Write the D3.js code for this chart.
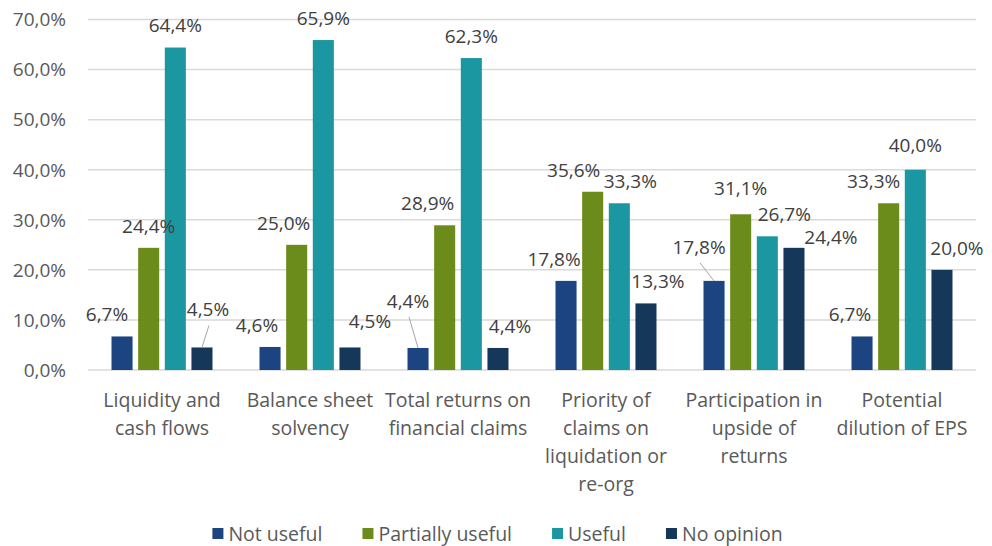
<!DOCTYPE html>
<html>
<head>
<meta charset="utf-8">
<script src="https://cdn.jsdelivr.net/npm/d3@7"></script>
<style>
  html, body { margin: 0; padding: 0; background: #ffffff; }
  svg { display: block; }
  text { font-family: "Open Sans", "Noto Sans", sans-serif; }
</style>
</head>
<body>
<svg id="chart" width="992" height="546"></svg>
<script>
// ---------- DATA ----------
const categories = [
  "Liquidity and\ncash flows",
  "Balance sheet\nsolvency",
  "Total returns on\nfinancial claims",
  "Priority of\nclaims on\nliquidation or\nre-org",
  "Participation in\nupside of\nreturns",
  "Potential\ndilution of EPS"
];
const seriesNames = ["Not useful", "Partially useful", "Useful", "No opinion"];
const notUseful       = [6.7, 4.6, 4.4, 17.8, 17.8, 6.7];
const partiallyUseful = [24.4, 25.0, 28.9, 35.6, 31.1, 33.3];
const useful          = [64.4, 65.9, 62.3, 33.3, 26.7, 40.0];
const noOpinion       = [4.5, 4.5, 4.4, 13.3, 24.4, 20.0];
const yTicks = [0, 10, 20, 30, 40, 50, 60, 70];

// ---------- STYLE / LAYOUT ----------
const seriesColors = ["#1b4480", "#6b8c1a", "#1a97a0", "#15385a"];
// manual label nudges (px): [dx, dy, leaderLine]
const labelNudge = [
  [[-15, 0], [-13, 0], [-10, -25, 1], [-12, 0], [-15, -12, 1], [-12, 0]],
  [[0, 0], [-13, 0], [-17, 0], [-19, 0], [0, -4], [-15, 0]],
  [[0, 0], [0, 0], [0, 0], [11, 0], [17, 0], [0, -3]],
  [[6, -16, 1], [20, -4], [12, 0], [12, 0], [37, 11], [15, 0]]
];

const values = [notUseful, partiallyUseful, useful, noOpinion];
const rows = categories.map((c, i) => ({
  cat: c,
  vals: seriesNames.map((s, j) => ({ series: s, si: j, ci: i, v: values[j][i] }))
}));

const svg = d3.select("#chart");
const plotLeft = 88, plotRight = 976, plotTop = 19.5, plotBottom = 370;

const y = d3.scaleLinear().domain([0, 70]).range([plotBottom, plotTop]);
const x0 = d3.scaleBand().domain(categories).range([plotLeft, plotRight]).padding(0);
const groupW = 101;
const x1 = d3.scaleBand().domain(seriesNames)
  .range([x0.bandwidth() / 2 - groupW / 2, x0.bandwidth() / 2 + groupW / 2])
  .paddingInner(0.21).paddingOuter(0);

const fmt = v => d3.format(".1f")(v).replace(".", ",") + "%";

// gridlines
svg.append("g").selectAll("line").data(yTicks).join("line")
  .attr("x1", plotLeft).attr("x2", plotRight)
  .attr("y1", d => y(d)).attr("y2", d => y(d))
  .attr("stroke", "#d9d9d9").attr("stroke-width", 1.5);

// y tick labels
svg.append("g").selectAll("text").data(yTicks).join("text")
  .text(fmt)
  .attr("x", 66).attr("y", d => y(d))
  .attr("text-anchor", "end")
  .attr("dy", "0.36em")
  .attr("font-size", 19)
  .attr("fill", "#595959");

// bars
const groups = svg.append("g").selectAll("g").data(rows).join("g")
  .attr("transform", d => `translate(${x0(d.cat)},0)`);
groups.selectAll("rect").data(d => d.vals).join("rect")
  .attr("x", d => x1(d.series))
  .attr("y", d => y(d.v))
  .attr("width", x1.bandwidth())
  .attr("height", d => y(0) - y(d.v))
  .attr("fill", d => seriesColors[d.si]);

// data labels + leader lines
const flat = rows.flatMap(r => r.vals);
const barCx = d => x0(categories[d.ci]) + x1(d.series) + x1.bandwidth() / 2;
const labX = d => barCx(d) + labelNudge[d.si][d.ci][0];
const labY = d => y(d.v) - 22 + labelNudge[d.si][d.ci][1];

svg.append("g").selectAll("line").data(flat.filter(d => labelNudge[d.si][d.ci][2])).join("line")
  .attr("x1", d => labX(d) + 1).attr("y1", d => labY(d) + 16)
  .attr("x2", d => barCx(d)).attr("y2", d => y(d.v))
  .attr("stroke", "#a6a6a6").attr("stroke-width", 1);

svg.append("g").selectAll("text").data(flat).join("text")
  .text(d => fmt(d.v))
  .attr("x", labX).attr("y", labY)
  .attr("text-anchor", "middle")
  .attr("dy", "0.36em")
  .attr("font-size", 19)
  .attr("fill", "#404040");

// category labels
const catG = svg.append("g").selectAll("g").data(categories).join("g");
catG.each(function (c) {
  const lines = c.split("\n");
  d3.select(this).selectAll("text").data(lines).join("text")
    .text(d => d)
    .attr("x", x0(c) + x0.bandwidth() / 2)
    .attr("y", (d, i) => 400 + i * 28)
    .attr("text-anchor", "middle")
    .attr("dy", "0.36em")
    .attr("font-size", 19.5)
    .attr("fill", "#595959");
});

// legend
const leg = svg.append("g");
const items = leg.selectAll("g").data(seriesNames).join("g");
items.append("rect").attr("width", 11).attr("height", 11).attr("y", -6)
  .attr("fill", (d, i) => seriesColors[i]);
const legTexts = items.append("text").text(d => d)
  .attr("x", 16)
  .attr("font-size", 19.5).attr("fill", "#595959").attr("dy", "0.36em");
let cx = 0;
const widths = [];
legTexts.each(function () { widths.push(this.getComputedTextLength()); });
const offsets = widths.map(w => { const o = cx; cx += 16 + w + 40; return o; });
const total = cx - 40;
items.attr("transform", (d, i) => `translate(${offsets[i]},0)`);
leg.attr("transform", `translate(${497.5 - total / 2},534)`);
</script>
</body>
</html>
